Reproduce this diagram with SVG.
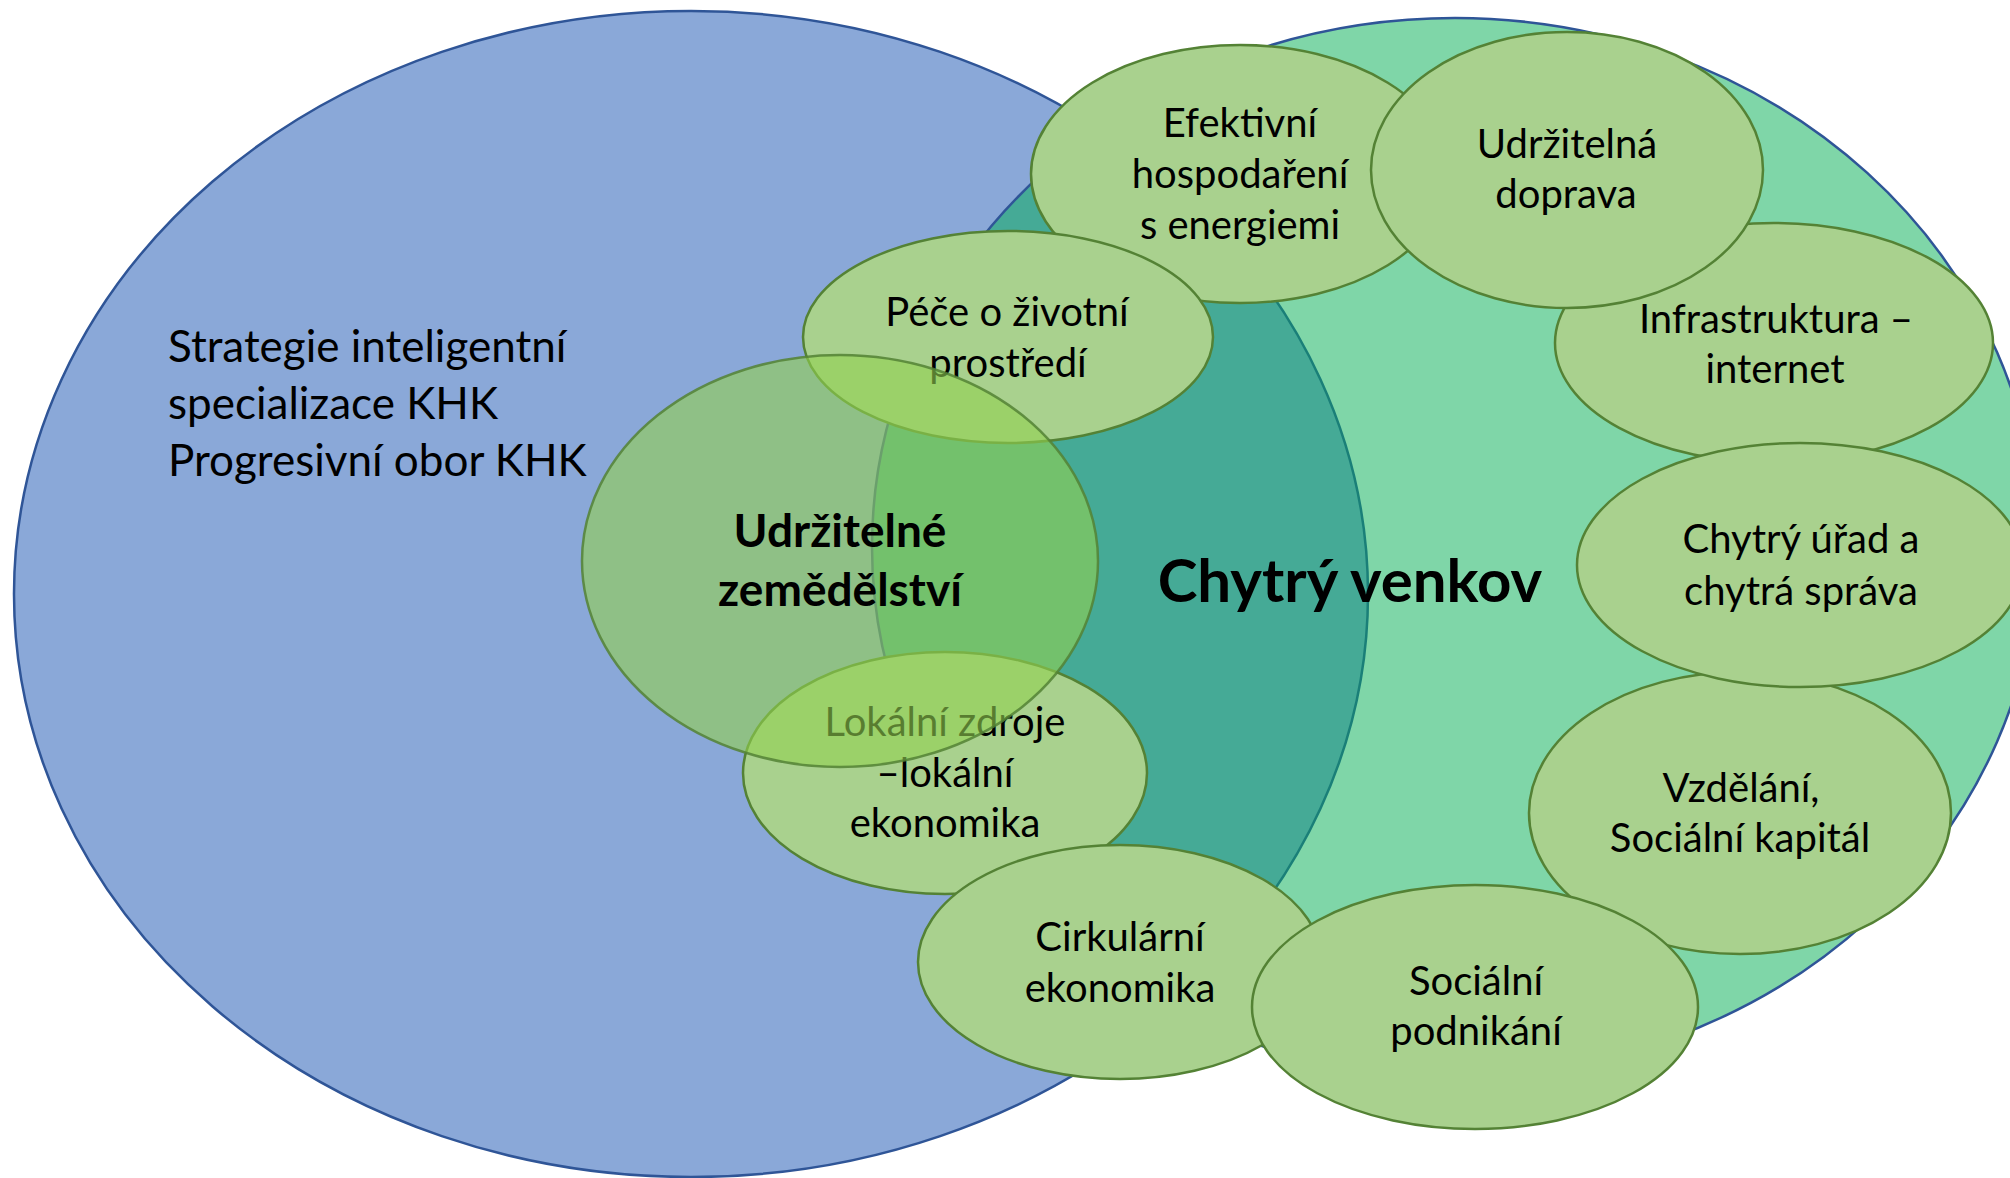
<svg xmlns="http://www.w3.org/2000/svg" width="2010" height="1178" viewBox="0 0 2010 1178">
  <defs>
    <clipPath id="clipBlue">
      <ellipse cx="691" cy="594" rx="677" ry="583"/>
    </clipPath>
    <clipPath id="clipGreen">
      <ellipse cx="1455" cy="547" rx="583" ry="529"/>
    </clipPath>
    <style>
      .node { fill: #A9D18E; stroke: #548235; stroke-width: 2.5; }
      .lbl { font-family: Lato, "Liberation Sans", sans-serif; font-size: 40px; fill: #000000; text-anchor: middle; }
      .big { font-family: Lato, "Liberation Sans", sans-serif; font-size: 44px; fill: #000000; }
      .bold { font-family: Lato, "Liberation Sans", sans-serif; font-weight: bold; fill: #000000; text-anchor: middle; }
    </style>
  </defs>
  <rect x="0" y="0" width="2010" height="1178" fill="#FFFFFF"/>

  <g id="strategie">
    <ellipse cx="691" cy="594" rx="677" ry="583" fill="#8AA8D8" stroke="#2F5597" stroke-width="2.5"/>
  </g>

  <g id="chytry-venkov">
    <ellipse cx="1455" cy="547" rx="583" ry="529" fill="#7FD6A8"/>
    <ellipse cx="1455" cy="547" rx="583" ry="529" fill="#45AA96" clip-path="url(#clipBlue)"/>
    <ellipse cx="691" cy="594" rx="677" ry="583" fill="none" stroke="#1A7F78" stroke-width="2.5" clip-path="url(#clipGreen)"/>
    <ellipse cx="1455" cy="547" rx="583" ry="529" fill="none" stroke="#2F5597" stroke-width="2.5"/>
  </g>

  <g id="connectors"/>

  <g id="efektivni">
    <ellipse class="node" cx="1240" cy="174" rx="209" ry="129"/>
    <text class="lbl" x="1240" y="137">Efektivní</text>
    <text class="lbl" x="1240" y="188">hospodaření</text>
    <text class="lbl" x="1240" y="239">s energiemi</text>
  </g>

  <g id="pece">
    <ellipse class="node" cx="1008" cy="337" rx="205" ry="106"/>
    <text class="lbl" x="1007" y="326">Péče o životní</text>
    <text class="lbl" x="1008" y="377">prostředí</text>
  </g>

  <g id="infrastruktura">
    <ellipse class="node" cx="1774" cy="343" rx="219" ry="120"/>
    <text class="lbl" x="1776" y="333">Infrastruktura –</text>
    <text class="lbl" x="1775" y="383">internet</text>
  </g>

  <g id="doprava">
    <ellipse class="node" cx="1567" cy="170" rx="196" ry="138"/>
    <text class="lbl" x="1567" y="158">Udržitelná</text>
    <text class="lbl" x="1566" y="208">doprava</text>
  </g>

  <g id="vzdelani">
    <ellipse class="node" cx="1740" cy="813" rx="211" ry="141"/>
    <text class="lbl" x="1741" y="802">Vzdělání,</text>
    <text class="lbl" x="1740" y="852">Sociální kapitál</text>
  </g>

  <g id="urad">
    <ellipse class="node" cx="1800" cy="565" rx="223" ry="122"/>
    <text class="lbl" x="1801" y="553">Chytrý úřad a</text>
    <text class="lbl" x="1801" y="605">chytrá správa</text>
  </g>

  <g id="lokalni">
    <ellipse class="node" cx="945" cy="773" rx="202" ry="121"/>
    <text class="lbl" x="945" y="736">Lokální zdroje</text>
    <text class="lbl" x="945" y="787">–lokální</text>
    <text class="lbl" x="945" y="837">ekonomika</text>
  </g>

  <g id="cirkularni">
    <ellipse class="node" cx="1120" cy="962" rx="202" ry="117"/>
    <text class="lbl" x="1120" y="951">Cirkulární</text>
    <text class="lbl" x="1120" y="1002">ekonomika</text>
  </g>

  <g id="socialni-podnikani">
    <ellipse class="node" cx="1475" cy="1007" rx="223" ry="122"/>
    <text class="lbl" x="1476" y="995">Sociální</text>
    <text class="lbl" x="1476" y="1045">podnikání</text>
  </g>

  <g id="zemedelstvi">
    <ellipse cx="840" cy="561" rx="258" ry="206" fill="#92D050" fill-opacity="0.6" stroke="#548235" stroke-opacity="0.85" stroke-width="2.5"/>
    <text class="bold" x="840" y="547" font-size="46">Udržitelné</text>
    <text class="bold" x="840" y="606" font-size="46">zemědělství</text>
  </g>

  <g id="labels">
    <text class="big" x="168" y="362">Strategie inteligentní</text>
    <text class="big" x="168" y="419">specializace KHK</text>
    <text class="big" x="168" y="476">Progresivní obor KHK</text>
    <text class="bold" x="1350" y="602" font-size="60">Chytrý venkov</text>
  </g>
</svg>
